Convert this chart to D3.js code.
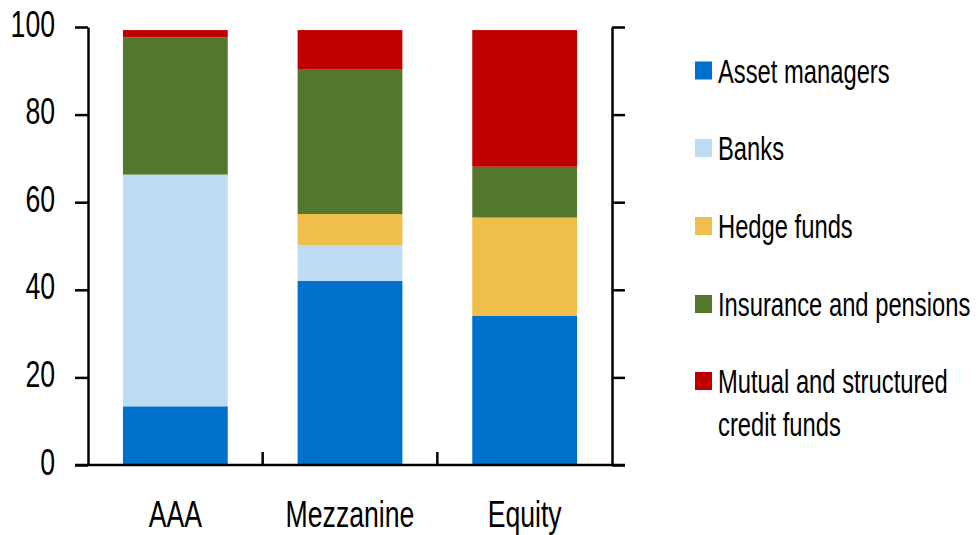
<!DOCTYPE html>
<html>
<head>
<meta charset="utf-8">
<script src="https://cdn.jsdelivr.net/npm/d3@7"></script>
<style>
  html, body { margin: 0; padding: 0; background: #fff; }
  svg { display: block; }
  text { font-family: "Liberation Sans", Arial, sans-serif; fill: #000; }
</style>
</head>
<body>
<svg id="chart" width="980" height="535"></svg>
<script>
const categories = ["AAA", "Mezzanine", "Equity"];
const seriesNames = ["Asset managers", "Banks", "Hedge funds", "Insurance and pensions", "Mutual and structured credit funds"];
const assetManagers = [13.4, 42.0, 34.1];
const banks = [52.9, 8.2, 0];
const hedgeFunds = [0, 7.1, 22.4];
const insurancePensions = [31.3, 33.1, 11.6];
const mutualStructured = [1.7, 8.9, 31.2];
const yTicks = [0, 20, 40, 60, 80, 100];
const colors = ["#0070CD", "#BFDBF1", "#F0BE4A", "#52772D", "#C00000"];
const legendLines = [["Asset managers"], ["Banks"], ["Hedge funds"], ["Insurance and pensions"], ["Mutual and structured", "credit funds"]];

const seriesValues = [assetManagers, banks, hedgeFunds, insurancePensions, mutualStructured];
const rows = categories.map((c, i) => {
  const r = { cat: c };
  seriesNames.forEach((s, k) => r[s] = seriesValues[k][i]);
  return r;
});

const svg = d3.select("#chart");
const plotLeft = 88, plotRight = 612, plotTop = 27, plotBottom = 465;
const sx = 0.72;
const fontFam = '"Liberation Sans", Arial, sans-serif';

const x = d3.scaleBand().domain(categories).range([plotLeft, plotRight]).paddingInner(0.4).paddingOuter(0.2);
const y = d3.scaleLinear().domain([0, 100]).range([plotBottom, plotTop]);

const stacked = d3.stack().keys(seriesNames)(rows);

svg.append("g").selectAll("g").data(stacked).join("g")
  .attr("fill", (d, i) => colors[i])
  .selectAll("rect").data(d => d).join("rect")
  .attr("x", d => x(d.data.cat))
  .attr("width", x.bandwidth())
  .attr("y", d => y(d[1]))
  .attr("height", d => Math.max(0, y(d[0]) - y(d[1])));

// left axis
const gl = svg.append("g").attr("transform", `translate(${plotLeft},0)`)
  .call(d3.axisLeft(y).tickValues(yTicks).tickSize(13).tickSizeOuter(0).tickFormat(d3.format("d")));
gl.select(".domain").attr("stroke", "#000").attr("stroke-width", 2.5);
gl.selectAll(".tick line").attr("stroke", "#000").attr("stroke-width", 2.5);
gl.selectAll(".tick text")
  .attr("x", 0).attr("dy", "0.3em")
  .attr("text-anchor", "end")
  .attr("transform", `translate(-33,-2) scale(${sx},1)`)
  .style("font-size", "37px")
  .style("font-family", fontFam);

// right axis
const gr = svg.append("g").attr("transform", `translate(${plotRight},0)`)
  .call(d3.axisRight(y).tickValues(yTicks).tickSize(13).tickSizeOuter(0).tickFormat(""));
gr.select(".domain").attr("stroke", "#000").attr("stroke-width", 2.5);
gr.selectAll(".tick line").attr("stroke", "#000").attr("stroke-width", 2.5);

// bottom axis line
svg.append("line")
  .attr("x1", plotLeft - 13).attr("x2", plotRight + 13)
  .attr("y1", plotBottom).attr("y2", plotBottom)
  .attr("stroke", "#000").attr("stroke-width", 2.5);

// category separators
const seps = categories.slice(1).map((c, i) => x.range()[0] + x.step() * (i + 1));
svg.append("g").selectAll("line").data(seps).join("line")
  .attr("x1", d => d).attr("x2", d => d)
  .attr("y1", plotBottom).attr("y2", plotBottom - 13)
  .attr("stroke", "#000").attr("stroke-width", 2.5);

// category labels
svg.append("g").selectAll("text").data(categories).join("text")
  .attr("text-anchor", "middle")
  .attr("transform", d => `translate(${x(d) + x.bandwidth() / 2},527) scale(${sx},1)`)
  .style("font-size", "37px")
  .text(d => d);

// legend
const legendBaselines = [82.5, 160, 238, 316, 393];
const lg = svg.append("g");
legendLines.forEach((lines, i) => {
  const b = legendBaselines[i];
  lg.append("rect").attr("x", 695).attr("y", b - 21).attr("width", 17).attr("height", 18).attr("fill", colors[i]);
  lines.forEach((t, j) => {
    lg.append("text")
      .attr("transform", `translate(718,${b + j * 43}) scale(${sx},1)`)
      .style("font-size", "33px")
      .text(t);
  });
});
</script>
</body>
</html>
